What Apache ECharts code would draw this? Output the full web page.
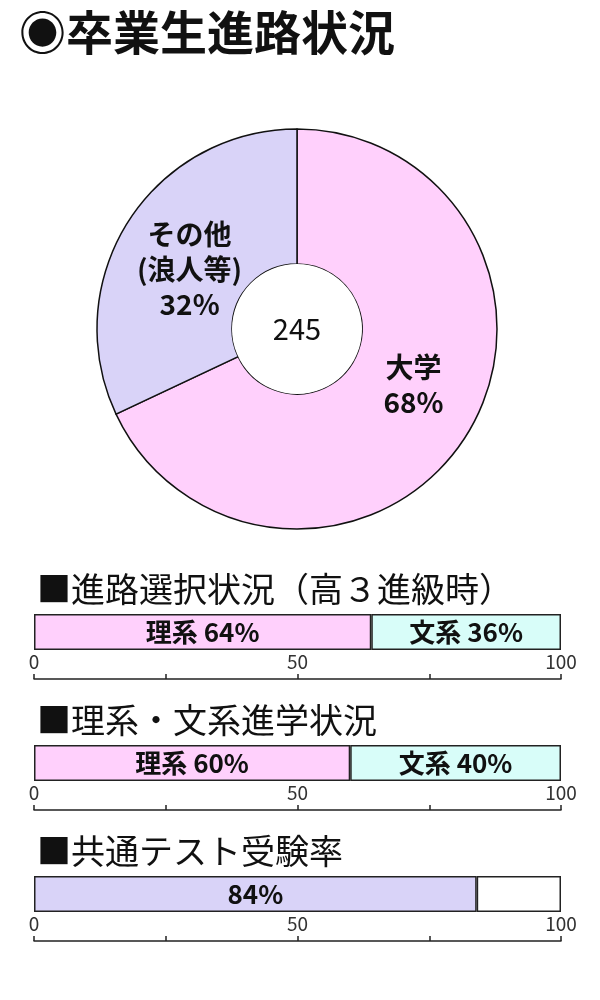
<!DOCTYPE html>
<html>
<head>
<meta charset="utf-8">
<script src="https://cdn.jsdelivr.net/npm/echarts@6/dist/echarts.min.js"></script>
<style>
  html, body { margin: 0; padding: 0; background: #fff; }
  #main { width: 600px; height: 1000px; }
</style>
</head>
<body>
<div id="main"></div>
<script>
// 卒業生進路（円グラフ）
const pieNames = ["大学", "その他\n(浪人等)"];
const pieValues = [68, 32];
const totalCount = 245;

// 帯グラフ
const barTitles = ["■進路選択状況（高３進級時）", "■理系・文系進学状況", "■共通テスト受験率"];
const firstNames = ["理系", "理系", ""];
const firstValues = [64, 60, 84];
const secondNames = ["文系", "文系", ""];
const secondValues = [36, 40, 16];
const tickLabels = [0, 50, 100];

const firstColors = ["#ffd0fc", "#ffd0fc", "#d9d3f8"];
const secondColors = ["#d8fdf9", "#d8fdf9", "#ffffff"];
const pieColors = ["#ffd0fc", "#d9d3f8"];

const font = "'Noto Sans CJK JP', 'Noto Sans', sans-serif";
const chart = echarts.init(document.getElementById("main"));

const titles = [
  {
    text: "◉卒業生進路状況",
    left: 14,
    top: 4,
    textStyle: { fontSize: 47, fontWeight: "bold", color: "#111", fontFamily: font },
  },
];
const grids = [];
const xAxes = [];
const yAxes = [];
const series = [];

barTitles.forEach(function (t, i) {
  const top = 614 + 131 * i;
  titles.push({
    text: t,
    left: 32,
    top: top - 47,
    textStyle: { fontSize: 34, fontWeight: "normal", color: "#111", fontFamily: font },
  });
  grids.push({ left: 34, right: 39, top: top, height: 36 });
  xAxes.push({
    gridIndex: i,
    type: "value",
    min: 0,
    max: 100,
    interval: 25,
    position: "bottom",
    offset: 29,
    splitLine: { show: false },
    axisLine: { show: true, lineStyle: { color: "#222", width: 1.5 } },
    axisTick: { show: true, inside: true, length: 5, lineStyle: { color: "#222", width: 1.5 } },
    axisLabel: {
      inside: true,
      margin: 8,
      fontSize: 19,
      color: "#333",
      fontFamily: font,
      formatter: function (v) {
        return tickLabels.indexOf(v) >= 0 ? String(v) : "";
      },
    },
  });
  yAxes.push({ gridIndex: i, type: "category", data: [""], show: false });

  const labelStyle = {
    show: true,
    position: "inside",
    fontSize: 26,
    fontWeight: "bold",
    color: "#111",
    fontFamily: font,
  };
  series.push({
    type: "bar",
    xAxisIndex: i,
    yAxisIndex: i,
    stack: "s" + i,
    barWidth: "100%",
    data: [firstValues[i]],
    itemStyle: { color: firstColors[i], borderColor: "#222", borderWidth: 1.5 },
    label: Object.assign({}, labelStyle, {
      formatter: function (p) {
        return (firstNames[i] ? firstNames[i] + " " : "") + p.value + "%";
      },
    }),
    silent: true,
  });
  series.push({
    type: "bar",
    xAxisIndex: i,
    yAxisIndex: i,
    stack: "s" + i,
    barWidth: "100%",
    data: [secondValues[i]],
    itemStyle: { color: secondColors[i], borderColor: "#222", borderWidth: 1.5 },
    label: Object.assign({}, labelStyle, {
      show: secondNames[i] !== "",
      formatter: function (p) {
        return secondNames[i] + " " + p.value + "%";
      },
    }),
    silent: true,
  });
});

series.push({
  type: "pie",
  center: [297, 329],
  radius: [65, 200],
  startAngle: 90,
  clockwise: true,
  silent: true,
  color: pieColors,
  itemStyle: { borderColor: "#111", borderWidth: 1.5 },
  label: {
    show: true,
    position: "inside",
    fontSize: 28,
    lineHeight: 35,
    fontWeight: "bold",
    color: "#111",
    fontFamily: font,
    formatter: function (p) {
      return p.name + "\n" + p.value + "%";
    },
  },
  labelLayout: function (p) {
    return p.dataIndex === 0 ? { dx: 2, dy: -17 } : { dx: 7, dy: 13 };
  },
  labelLine: { show: false },
  data: pieNames.map(function (n, k) {
    return { name: n, value: pieValues[k] };
  }),
});

// 中央の人数
series.push({
  type: "pie",
  center: [297, 329],
  radius: [0, 65],
  silent: true,
  itemStyle: { color: "#fff" },
  label: {
    show: true,
    position: "center",
    fontSize: 29,
    color: "#111",
    fontFamily: font,
    formatter: "{c}",
  },
  labelLine: { show: false },
  data: [{ name: "合計", value: totalCount }],
});

chart.setOption({
  backgroundColor: "#fff",
  animation: false,
  title: titles,
  grid: grids,
  xAxis: xAxes,
  yAxis: yAxes,
  series: series,
});
</script>
</body>
</html>
